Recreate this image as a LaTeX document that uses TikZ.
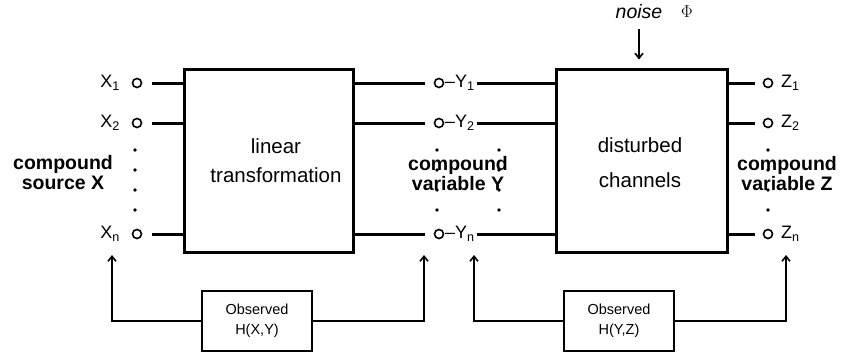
\documentclass[tikz,border=0pt]{standalone}
\usepackage{fontspec}
\setmainfont{Liberation Sans}
\usetikzlibrary{arrows.meta, positioning, calc}

\tikzset{
  block/.style={draw, line width=3pt, minimum width=169pt, minimum height=183pt, inner sep=0pt},
  blocktext/.style={inner sep=0pt, align=center, font=\fontsize{20.5}{29}\selectfont},
  port/.style={draw, circle, line width=1.6pt, minimum size=9pt, inner sep=0pt},
  wire/.style={line width=3pt},
  lbl/.style={inner sep=0pt, font=\fontsize{18}{20}\selectfont},
  title/.style={inner sep=0pt, align=center, font=\bfseries\fontsize{19.5}{20}\selectfont},
  obsbox/.style={draw, line width=1.6pt, minimum width=110pt, minimum height=60pt, align=center, font=\fontsize{14.5}{20}\selectfont},
  fb/.style={line width=1.6pt, -{Straight Barb[length=5pt, width=8pt]}}
}

\begin{document}
\begin{tikzpicture}[x=1pt, y=-1pt]
\useasboundingbox (0,0) rectangle (851,356);

% the two blocks
\node[block] (lin) at (268.5,160.5) {};
\node[blocktext] (lintext) at (276,161) {linear\\transformation};
\node[block, minimum width=171pt] (chan) at (641.5,160.5) {};
\node[blocktext] (chantext) at (640,163) {disturbed\\[6pt]channels};

% ports and wires
\foreach \n/\y in {1/83, 2/123, n/234} {
  \node[port] (x\n) at (137,\y) {};
  \node[lbl, anchor=east] (xl\n) at (120,\y) {X\textsubscript{\n}};
  \draw[wire, shorten <=10pt] (x\n) -- (x\n -| lin.west);

  \node[port] (y\n) at (439,\y) {};
  \node[lbl, anchor=west] (yl\n) at (445,\y) {–Y\textsubscript{\n}};
  \draw[wire, shorten >=9pt] (lin.east |- y\n) -- (y\n);
  \draw[wire, shorten <=2pt] (yl\n.east) -- (yl\n.east -| chan.west);

  \node[port] (z\n) at (768,\y) {};
  \node[lbl, anchor=west] (zl\n) at (781,\y) {Z\textsubscript{\n}};
  \draw[wire, shorten >=8pt] (chan.east |- z\n) -- (z\n);
}

% dots between the ports
\foreach \x in {135,437,499,768}
  \foreach \y in {150,170,190,210}
    \fill (\x,\y) circle (1.8pt);

\node[title] (srcx) at (63,173) {compound\\source X};
\node[title] (vary) at (458,174) {compound\\variable Y};
\node[title] (varz) at (787,174) {compound\\variable Z};

% noise input
\node[font=\itshape\fontsize{19.5}{20}\selectfont] (noise) at (639,12) {noise};
\node[font=\fontsize{18}{20}\selectfont] (phi) at (687,12) {$\Phi$};
\draw[fb, shorten <=6pt, shorten >=8pt] (noise.south) -- (noise.south |- chan.north);

% observers
\node[obsbox] (obs1) at (257,321) {Observed\\H(X,Y)};
\node[obsbox] (obs2) at (619,321) {Observed\\H(Y,Z)};
\coordinate (tipx) at (112,255);
\coordinate (tipy1) at (424,255);
\coordinate (tipy2) at (474,255);
\coordinate (tipz) at (786,255);
\draw[fb] (obs1.west) -| (tipx);
\draw[fb] (obs1.east) -| (tipy1);
\draw[fb] (obs2.west) -| (tipy2);
\draw[fb] (obs2.east) -| (tipz);
\end{tikzpicture}
\end{document}
